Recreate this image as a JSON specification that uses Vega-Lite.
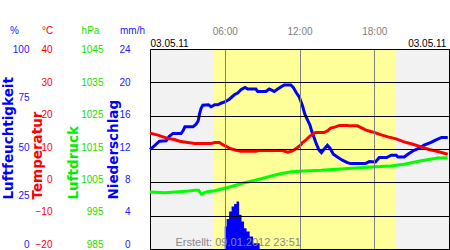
{
  "$schema": "https://vega.github.io/schema/vega-lite/v6.json",
  "width": 299,
  "height": 200,
  "autosize": "none",
  "padding": {"left": 150, "top": 49, "right": 1, "bottom": 1},
  "background": "#ffffff",
  "config": {
    "font": "Liberation Sans",
    "view": {"fill": "#f2f2f2", "stroke": "#000000", "strokeWidth": 1},
    "axis": {"labelFont": "Liberation Sans", "titleFont": "Liberation Sans", "labelFontSize": 10, "titleFontSize": 10, "titleFontWeight": "normal", "domain": false, "ticks": false, "tickSize": 0, "grid": false, "labelPadding": 0}
  },
  "datasets": {
    "day": [{"start": 5.12, "end": 19.73}],
    "hum": [
      {"h": 0.0, "v": 49.7}, {"h": 0.35, "v": 51.6}, {"h": 0.75, "v": 53.9}, {"h": 1.3, "v": 54.1}, {"h": 1.55, "v": 56.3},
      {"h": 1.85, "v": 57.8}, {"h": 2.5, "v": 57.8}, {"h": 2.65, "v": 59.1}, {"h": 2.8, "v": 61.1}, {"h": 3.45, "v": 61.1},
      {"h": 3.7, "v": 62.4}, {"h": 3.87, "v": 64.1}, {"h": 3.97, "v": 67.4}, {"h": 4.1, "v": 70.3}, {"h": 4.24, "v": 71.9},
      {"h": 4.7, "v": 72.1}, {"h": 4.9, "v": 71.1}, {"h": 5.2, "v": 72.1}, {"h": 5.45, "v": 72.1}, {"h": 5.7, "v": 72.9},
      {"h": 6.0, "v": 73.5}, {"h": 6.37, "v": 74.9}, {"h": 6.77, "v": 77.1}, {"h": 7.04, "v": 78.0}, {"h": 7.3, "v": 79.6},
      {"h": 7.63, "v": 80.8}, {"h": 7.84, "v": 80.0}, {"h": 8.5, "v": 80.0}, {"h": 8.64, "v": 78.8}, {"h": 9.3, "v": 78.8},
      {"h": 9.57, "v": 80.0}, {"h": 9.97, "v": 78.8}, {"h": 10.37, "v": 80.5}, {"h": 10.77, "v": 82.0}, {"h": 11.3, "v": 82.0},
      {"h": 11.5, "v": 80.8}, {"h": 11.76, "v": 78.0}, {"h": 11.97, "v": 76.1}, {"h": 12.24, "v": 71.6}, {"h": 12.43, "v": 67.4},
      {"h": 12.64, "v": 64.6}, {"h": 12.83, "v": 62.1}, {"h": 12.99, "v": 58.8}, {"h": 13.17, "v": 55.8}, {"h": 13.36, "v": 52.4},
      {"h": 13.57, "v": 49.4}, {"h": 13.76, "v": 48.2}, {"h": 13.97, "v": 49.9}, {"h": 14.24, "v": 51.9}, {"h": 14.45, "v": 50.4},
      {"h": 14.72, "v": 47.4}, {"h": 15.04, "v": 46.0}, {"h": 15.44, "v": 44.4}, {"h": 15.84, "v": 43.2}, {"h": 16.1, "v": 42.7},
      {"h": 17.3, "v": 42.7}, {"h": 17.6, "v": 43.7}, {"h": 18.1, "v": 43.5}, {"h": 18.4, "v": 45.7}, {"h": 19.0, "v": 45.7},
      {"h": 19.36, "v": 46.9}, {"h": 19.76, "v": 46.9}, {"h": 19.9, "v": 46.0}, {"h": 20.4, "v": 46.0}, {"h": 20.7, "v": 47.4},
      {"h": 21.1, "v": 49.0}, {"h": 21.6, "v": 50.4}, {"h": 22.0, "v": 51.9}, {"h": 22.56, "v": 53.3}, {"h": 22.96, "v": 54.6},
      {"h": 23.4, "v": 55.8}, {"h": 23.9, "v": 55.8}
    ],
    "temp": [
      {"h": 0.0, "v": 14.75}, {"h": 0.64, "v": 14.15}, {"h": 1.04, "v": 13.64}, {"h": 1.44, "v": 13.15}, {"h": 1.97, "v": 12.85},
      {"h": 2.37, "v": 12.34}, {"h": 3.04, "v": 11.95}, {"h": 3.57, "v": 11.65}, {"h": 4.9, "v": 11.65}, {"h": 5.2, "v": 11.95},
      {"h": 5.57, "v": 11.95}, {"h": 5.87, "v": 11.23}, {"h": 6.1, "v": 10.9}, {"h": 6.37, "v": 10.24}, {"h": 6.9, "v": 9.64},
      {"h": 7.3, "v": 9.34}, {"h": 8.5, "v": 9.34}, {"h": 8.77, "v": 9.55}, {"h": 10.64, "v": 9.55}, {"h": 11.04, "v": 9.04},
      {"h": 11.44, "v": 9.43}, {"h": 11.84, "v": 10.45}, {"h": 12.1, "v": 11.2}, {"h": 12.24, "v": 11.95}, {"h": 12.5, "v": 12.64},
      {"h": 12.77, "v": 13.64}, {"h": 13.04, "v": 14.45}, {"h": 13.3, "v": 14.95}, {"h": 13.97, "v": 14.95}, {"h": 14.24, "v": 15.44},
      {"h": 14.5, "v": 16.25}, {"h": 14.9, "v": 16.64}, {"h": 15.2, "v": 17.06}, {"h": 15.84, "v": 17.06}, {"h": 16.1, "v": 16.94},
      {"h": 16.64, "v": 16.94}, {"h": 16.9, "v": 16.46}, {"h": 17.3, "v": 15.74}, {"h": 17.7, "v": 15.26}, {"h": 18.0, "v": 15.0},
      {"h": 18.56, "v": 14.24}, {"h": 19.1, "v": 13.64}, {"h": 19.76, "v": 13.04}, {"h": 20.4, "v": 12.13}, {"h": 21.1, "v": 11.44},
      {"h": 21.76, "v": 10.63}, {"h": 22.4, "v": 9.85}, {"h": 23.1, "v": 9.25}, {"h": 23.9, "v": 8.44}
    ],
    "pres": [
      {"h": 0.0, "v": 1002.1}, {"h": 1.2, "v": 1001.9}, {"h": 2.3, "v": 1002.2}, {"h": 3.07, "v": 1002.4}, {"h": 3.6, "v": 1002.6},
      {"h": 3.9, "v": 1002.6}, {"h": 4.13, "v": 1001.4}, {"h": 4.5, "v": 1002.1}, {"h": 5.2, "v": 1002.5}, {"h": 6.0, "v": 1003.2},
      {"h": 6.67, "v": 1003.9}, {"h": 7.6, "v": 1004.9}, {"h": 8.93, "v": 1006.1}, {"h": 10.27, "v": 1007.4}, {"h": 11.33, "v": 1008.2},
      {"h": 12.4, "v": 1008.4}, {"h": 13.73, "v": 1008.6}, {"h": 15.6, "v": 1009.1}, {"h": 17.73, "v": 1009.6}, {"h": 19.33, "v": 1009.9},
      {"h": 20.4, "v": 1010.4}, {"h": 21.76, "v": 1011.5}, {"h": 23.1, "v": 1012.3}, {"h": 23.9, "v": 1012.4}
    ],
    "rain": [
      {"h": 6.0, "v": 2.7}, {"h": 6.15, "v": 3.6}, {"h": 6.35, "v": 4.5}, {"h": 6.55, "v": 5.1}, {"h": 6.75, "v": 5.4},
      {"h": 6.95, "v": 5.7}, {"h": 7.15, "v": 4.1}, {"h": 7.35, "v": 3.3}, {"h": 7.55, "v": 2.5}, {"h": 7.75, "v": 2.1},
      {"h": 8.0, "v": 1.5}, {"h": 8.27, "v": 0.7}, {"h": 8.8, "v": 0}
    ]
  },
  "layer": [
    {
      "data": {"name": "day"},
      "mark": {"type": "rect", "color": "#ffff99"},
      "encoding": {
        "x": {"field": "start", "type": "quantitative", "scale": {"domain": [0, 24], "nice": false, "zero": false},
          "axis": {"orient": "top", "title": null, "values": [6, 12, 18], "labelExpr": "(datum.value < 10 ? '0' : '') + datum.value + ':00'",
            "labelColor": "#808080", "offset": 13, "grid": true, "gridColor": "#808080", "gridWidth": 1, "zindex": 1}},
        "x2": {"field": "end"}
      }
    },
    {
      "data": {"name": "hum"},
      "mark": {"type": "line", "color": "#0000ff", "strokeWidth": 3},
      "encoding": {
        "x": {"field": "h", "type": "quantitative",
          "axis": {"orient": "top", "title": null, "values": [0, 23.75], "labelExpr": "'03.05.11'",
            "labelAlign": {"condition": {"test": "datum.value > 12", "value": "right"}, "value": "left"},
            "labelColor": "#000000", "labelPadding": 1}},
        "y": {"field": "v", "type": "quantitative", "scale": {"domain": [0, 100], "nice": false},
          "axis": {"orient": "left", "offset": 121, "values": [0, 25, 50, 75, 100], "labelColor": "#2020ff",
            "labelBaseline": {"condition": {"test": "datum.value == 0", "value": "bottom"}, "value": "middle"},
            "labelOffset": {"condition": [{"test": "datum.value == 25", "value": -4}, {"test": "datum.value == 50 || datum.value == 75", "value": -2}], "value": 0},
            "title": "%", "titleAngle": 0, "titleX": -15, "titleY": -19, "titleAlign": "center", "titleBaseline": "middle", "titleColor": "#2020ff"}}
      }
    },
    {
      "data": {"name": "hum"},
      "mark": {"type": "line", "opacity": 0},
      "encoding": {
        "x": {"field": "h", "type": "quantitative", "axis": null},
        "y": {"field": "v", "type": "quantitative", "scale": {"domain": [0, 100], "nice": false},
          "axis": {"orient": "left", "offset": 0, "labels": false, "title": "Luftfeuchtigkeit", "titleAngle": 270, "titleX": -142, "titleY": 150,
            "titleAlign": "left", "titleBaseline": "middle", "titleFont": "DejaVu Sans", "titleFontSize": 13.5, "titleFontWeight": "bold", "titleColor": "#0000ff"}}
      }
    },
    {
      "data": {"name": "pres"},
      "mark": {"type": "line", "color": "#00ff00", "strokeWidth": 3},
      "encoding": {
        "x": {"field": "h", "type": "quantitative", "axis": null},
        "y": {"field": "v", "type": "quantitative", "scale": {"domain": [985, 1045], "nice": false, "zero": false},
          "axis": {"orient": "left", "offset": 47, "values": [985, 995, 1005, 1015, 1025, 1035, 1045], "format": "d", "labelColor": "#22dd00",
            "labelBaseline": {"condition": {"test": "datum.value == 985", "value": "bottom"}, "value": "middle"},
            "labelOffset": {"condition": [{"test": "datum.value == 995", "value": -4}, {"test": "datum.value == 1005", "value": -3}, {"test": "datum.value == 1015", "value": -2}, {"test": "datum.value == 1025", "value": -1}], "value": 0},
            "title": "hPa", "titleAngle": 0, "titleX": -13, "titleY": -19, "titleAlign": "center", "titleBaseline": "middle", "titleColor": "#22dd00"}}
      }
    },
    {
      "data": {"name": "pres"},
      "mark": {"type": "line", "opacity": 0},
      "encoding": {
        "x": {"field": "h", "type": "quantitative", "axis": null},
        "y": {"field": "v", "type": "quantitative", "scale": {"domain": [985, 1045], "nice": false, "zero": false},
          "axis": {"orient": "left", "offset": 0, "labels": false, "title": "Luftdruck", "titleAngle": 270, "titleX": -77, "titleY": 150,
            "titleAlign": "left", "titleBaseline": "middle", "titleFont": "DejaVu Sans", "titleFontSize": 13.5, "titleFontWeight": "bold", "titleColor": "#00ee00"}}
      }
    },
    {
      "data": {"name": "temp"},
      "mark": {"type": "line", "color": "#ff0000", "strokeWidth": 3},
      "encoding": {
        "x": {"field": "h", "type": "quantitative", "axis": null},
        "y": {"field": "v", "type": "quantitative", "scale": {"domain": [-20, 40], "nice": false, "zero": false},
          "axis": {"orient": "left", "offset": 98, "values": [-20, -10, 0, 10, 20, 30, 40], "labelColor": "#ff0000",
            "labelBaseline": {"condition": {"test": "datum.value == -20", "value": "bottom"}, "value": "middle"},
            "labelOffset": {"condition": [{"test": "datum.value == -10", "value": -4}, {"test": "datum.value == 0", "value": -3}, {"test": "datum.value == 10", "value": -2}, {"test": "datum.value == 20", "value": -1}], "value": 0},
            "grid": true, "gridColor": "#000000", "gridWidth": 1, "zindex": 1,
            "title": "°C", "titleAngle": 0, "titleX": -5, "titleY": -19, "titleAlign": "center", "titleBaseline": "middle", "titleColor": "#ff0000"}}
      }
    },
    {
      "data": {"name": "temp"},
      "mark": {"type": "line", "opacity": 0},
      "encoding": {
        "x": {"field": "h", "type": "quantitative", "axis": null},
        "y": {"field": "v", "type": "quantitative", "scale": {"domain": [-20, 40], "nice": false, "zero": false},
          "axis": {"orient": "left", "offset": 0, "labels": false, "title": "Temperatur", "titleAngle": 270, "titleX": -113, "titleY": 150,
            "titleAlign": "left", "titleBaseline": "middle", "titleFont": "DejaVu Sans", "titleFontSize": 13.5, "titleFontWeight": "bold", "titleColor": "#ff0000"}}
      }
    },
    {
      "data": {"name": "rain"},
      "mark": {"type": "area", "color": "#0000ff", "interpolate": "step-after", "opacity": 1},
      "encoding": {
        "x": {"field": "h", "type": "quantitative",
          "axis": {"orient": "bottom", "labels": false, "title": "Erstellt: 09.01.2012 23:51", "titleX": 25, "titleY": -4,
            "titleAlign": "left", "titleBaseline": "alphabetic", "titleFontSize": 11, "titleColor": "#888888", "zindex": 1}},
        "y": {"field": "v", "type": "quantitative", "scale": {"domain": [0, 24], "nice": false},
          "axis": {"orient": "left", "offset": 20, "values": [0, 4, 8, 12, 16, 20, 24], "labelColor": "#2020ff",
            "labelBaseline": {"condition": {"test": "datum.value == 0", "value": "bottom"}, "value": "middle"},
            "labelOffset": {"condition": [{"test": "datum.value == 4", "value": -4}, {"test": "datum.value == 8", "value": -3}, {"test": "datum.value == 12", "value": -2}, {"test": "datum.value == 16", "value": -1}], "value": 0},
            "title": "mm/h", "titleAngle": 0, "titleX": 2, "titleY": -19, "titleAlign": "center", "titleBaseline": "middle", "titleColor": "#2020ff"}}
      }
    },
    {
      "data": {"name": "rain"},
      "mark": {"type": "line", "opacity": 0},
      "encoding": {
        "x": {"field": "h", "type": "quantitative", "axis": null},
        "y": {"field": "v", "type": "quantitative", "scale": {"domain": [0, 24], "nice": false},
          "axis": {"orient": "left", "offset": 0, "labels": false, "title": "Niederschlag", "titleAngle": 270, "titleX": -37, "titleY": 150,
            "titleAlign": "left", "titleBaseline": "middle", "titleFont": "DejaVu Sans", "titleFontSize": 13.5, "titleFontWeight": "bold", "titleColor": "#0000ff"}}
      }
    }
  ],
  "resolve": {"scale": {"y": "independent"}, "axis": {"x": "independent", "y": "independent"}}
}
